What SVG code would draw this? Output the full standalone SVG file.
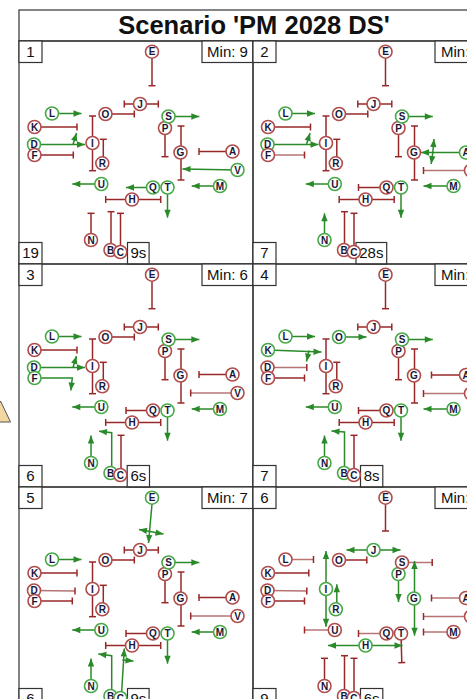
<svg xmlns="http://www.w3.org/2000/svg" width="467" height="699" viewBox="0 0 467 699">
<style>
.fr{fill:none;stroke:#333;stroke-width:1.2}
.bx{fill:#fff;stroke:#333;stroke-width:1.2}
.lb{font-family:"Liberation Sans",Arial,sans-serif;font-size:15px;fill:#111;text-anchor:middle}
.ls{font-family:"Liberation Sans",Arial,sans-serif;font-size:15px;fill:#111}
.rt{stroke:#982828;stroke-width:1.5;fill:none;marker-end:url(#tee)}
.rl{stroke:#b67474;stroke-width:1.5;fill:none;marker-end:url(#teel)}
.ga{stroke:#2a8a2a;stroke-width:1.5;fill:none;marker-end:url(#arr)}
.gb{stroke:#2a8a2a;stroke-width:1.5;fill:none;marker-end:url(#arr);marker-start:url(#arr)}
.n circle{fill:#fff;stroke-width:1.6}
.r circle{stroke:#b04c4c}
.g circle{stroke:#48a848}
.n text{font-family:"Liberation Sans",Arial,sans-serif;font-weight:bold;font-size:10px;text-anchor:middle;fill:#16163a}
</style>
<defs>
<marker id="tee" markerUnits="userSpaceOnUse" markerWidth="10" markerHeight="10" viewBox="-5 -5 10 10" refX="0" refY="0" orient="auto" overflow="visible"><line x1="0" y1="-3.5" x2="0" y2="3.5" stroke="#982828" stroke-width="1.5"/></marker>
<marker id="teel" markerUnits="userSpaceOnUse" markerWidth="10" markerHeight="10" viewBox="-5 -5 10 10" refX="0" refY="0" orient="auto" overflow="visible"><line x1="0" y1="-3.5" x2="0" y2="3.5" stroke="#982828" stroke-width="1.5"/></marker>
<marker id="arr" markerUnits="userSpaceOnUse" markerWidth="10" markerHeight="10" viewBox="-9 -5 10 10" refX="0" refY="0" orient="auto-start-reverse" overflow="visible"><path d="M-8,-3.2 L0,0 L-8,3.2 z" fill="#2a8a2a"/></marker>
</defs>

<rect width="467" height="699" fill="#fff"/>
<polygon points="-9,422 0.5,401 10.5,422" fill="#f3d7a0" stroke="#555" stroke-width="1"/>

<g id="title">
<rect x="19" y="10" width="468" height="31" class="fr"/>
<text x="254" y="33.5" font-family="Liberation Sans, Arial, sans-serif" font-weight="bold" font-size="25.5" text-anchor="middle" fill="#111">Scenario 'PM 2028 DS'</text>
</g>

<!-- PANEL 1 -->
<g id="panel1" transform="translate(19,41)">
<rect width="234" height="223" class="fr"/>
<rect width="23" height="21.5" class="bx"/><text x="11.5" y="16" class="lb">1</text>
<rect x="183" width="51" height="21.5" class="bx"/><text x="208.5" y="16" class="lb">Min: 9</text>
<rect y="201.5" width="23" height="21.5" class="bx"/><text x="11.5" y="217" class="lb">19</text>
<rect x="108.5" y="201.5" width="21.6" height="21.5" class="bx"/><text x="119.3" y="217" class="lb">9s</text>
<g id="p1-connectors">
<line class="rt" x1="133" y1="17" x2="133" y2="44.7"/>
<line class="rt" x1="121" y1="63" x2="105.3" y2="63"/>
<line class="rt" x1="121" y1="63" x2="139.3" y2="63"/>
<line class="rt" x1="86.5" y1="73" x2="115.3" y2="73"/>
<line class="ga" x1="33" y1="72.5" x2="62.5" y2="72.5"/>
<line class="rt" x1="15.5" y1="86" x2="58" y2="86"/>
<line class="ga" x1="15" y1="103.5" x2="66" y2="103.5"/>
<line class="ga" x1="54" y1="103.5" x2="57.5" y2="92"/>
<line class="rt" x1="15.5" y1="114" x2="54.3" y2="114"/>
<line class="rt" x1="73.5" y1="102" x2="73.5" y2="75"/>
<line class="rt" x1="73.5" y1="102" x2="73.5" y2="129.7"/>
<line class="rt" x1="84.3" y1="122" x2="84.3" y2="98.3"/>
<line class="ga" x1="82.3" y1="143" x2="53.3" y2="143"/>
<line class="ga" x1="149.5" y1="75.5" x2="180.3" y2="75.5"/>
<line class="rt" x1="146" y1="87" x2="146" y2="115.7"/>
<line class="rt" x1="162" y1="111.5" x2="162" y2="85"/>
<line class="rt" x1="162" y1="111.5" x2="162" y2="139"/>
<line class="rt" x1="213.5" y1="110.5" x2="180" y2="110.5"/>
<line class="ga" x1="218.5" y1="129" x2="163.5" y2="128"/>
<line class="ga" x1="201" y1="145" x2="172.7" y2="145"/>
<line class="ga" x1="148.5" y1="146.5" x2="148.5" y2="176.7"/>
<line class="ga" x1="134" y1="146.5" x2="107" y2="146.5"/>
<line class="rt" x1="113" y1="158.5" x2="86.7" y2="158.5"/>
<line class="rt" x1="113" y1="158.5" x2="141.7" y2="158.5"/>
<line class="rt" x1="72" y1="199" x2="72" y2="172.3"/>
<line class="rt" x1="92" y1="209" x2="92" y2="170.7"/>
<line class="rt" x1="101.5" y1="211" x2="101.5" y2="172.3"/>
</g>
<g id="p1-E" class="n r" transform="translate(133,10.7)"><circle r="6.5"/><text y="3.6">E</text></g>
<g id="p1-J" class="n r" transform="translate(121,63)"><circle r="6.5"/><text y="3.6">J</text></g>
<g id="p1-O" class="n r" transform="translate(86.5,73)"><circle r="6.5"/><text y="3.6">O</text></g>
<g id="p1-L" class="n g" transform="translate(33,72.5)"><circle r="6.5"/><text y="3.6">L</text></g>
<g id="p1-K" class="n r" transform="translate(15.5,86)"><circle r="6.5"/><text y="3.6">K</text></g>
<g id="p1-D" class="n g" transform="translate(15,103.5)"><circle r="6.5"/><text y="3.6">D</text></g>
<g id="p1-F" class="n r" transform="translate(15.5,114)"><circle r="6.5"/><text y="3.6">F</text></g>
<g id="p1-I" class="n r" transform="translate(73.5,102)"><circle r="6.5"/><text y="3.6">I</text></g>
<g id="p1-R" class="n r" transform="translate(83.3,122.3)"><circle r="6.5"/><text y="3.6">R</text></g>
<g id="p1-U" class="n g" transform="translate(82.3,143)"><circle r="6.5"/><text y="3.6">U</text></g>
<g id="p1-P" class="n r" transform="translate(146,87)"><circle r="6.5"/><text y="3.6">P</text></g>
<g id="p1-S" class="n g" transform="translate(149.5,75.5)"><circle r="6.5"/><text y="3.6">S</text></g>
<g id="p1-G" class="n r" transform="translate(161.5,111.5)"><circle r="6.5"/><text y="3.6">G</text></g>
<g id="p1-A" class="n r" transform="translate(213.5,110.5)"><circle r="6.5"/><text y="3.6">A</text></g>
<g id="p1-V" class="n g" transform="translate(218.5,129)"><circle r="6.5"/><text y="3.6">V</text></g>
<g id="p1-M" class="n g" transform="translate(201,145)"><circle r="6.5"/><text y="3.6">M</text></g>
<g id="p1-Q" class="n g" transform="translate(134,146.5)"><circle r="6.5"/><text y="3.6">Q</text></g>
<g id="p1-T" class="n g" transform="translate(148.5,146.5)"><circle r="6.5"/><text y="3.6">T</text></g>
<g id="p1-H" class="n r" transform="translate(113,158.5)"><circle r="6.5"/><text y="3.6">H</text></g>
<g id="p1-N" class="n r" transform="translate(72,199)"><circle r="6.5"/><text y="3.6">N</text></g>
<g id="p1-B" class="n r" transform="translate(91.5,209)"><circle r="6.5"/><text y="3.6">B</text></g>
<g id="p1-C" class="n r" transform="translate(101.3,211)"><circle r="6.5"/><text y="3.6">C</text></g>
</g>

<!-- PANEL 2 -->
<g id="panel2" transform="translate(252.5,41)">
<rect x="0.5" width="234" height="223" class="fr"/>
<rect x="0.5" width="23" height="21.5" class="bx"/><text x="12" y="16" class="lb">2</text>
<rect x="182.5" width="52" height="21.5" class="bx"/><text x="188.5" y="16" class="ls">Min:</text>
<rect x="0.5" y="201.5" width="23" height="21.5" class="bx"/><text x="12" y="217" class="lb">7</text>
<rect x="103.5" y="201.5" width="30.7" height="21.5" class="bx"/><text x="118.8" y="217" class="lb">28s</text>
<g id="p2-connectors">
<line class="rt" x1="133" y1="17" x2="133" y2="44.7"/>
<line class="rt" x1="121" y1="63" x2="105.3" y2="63"/>
<line class="rt" x1="121" y1="63" x2="139.3" y2="63"/>
<line class="rt" x1="86.5" y1="73" x2="115.3" y2="73"/>
<line class="ga" x1="33" y1="72.5" x2="62.5" y2="72.5"/>
<line class="rt" x1="15.5" y1="86" x2="58" y2="86"/>
<line class="ga" x1="15" y1="103.5" x2="66" y2="103.5"/>
<line class="ga" x1="54" y1="103.5" x2="57.5" y2="92"/>
<line class="rl" x1="15.5" y1="114" x2="52" y2="114"/>
<line class="rt" x1="73.5" y1="102" x2="73.5" y2="75"/>
<line class="rt" x1="73.5" y1="102" x2="73.5" y2="129.7"/>
<line class="rt" x1="84.3" y1="122" x2="84.3" y2="98.3"/>
<line class="ga" x1="82.3" y1="143" x2="53.3" y2="143"/>
<line class="ga" x1="149.5" y1="75.5" x2="180.3" y2="75.5"/>
<line class="rt" x1="146" y1="87" x2="146" y2="115.7"/>
<line class="rt" x1="162" y1="111.5" x2="162" y2="85"/>
<line class="rt" x1="162" y1="111.5" x2="162" y2="139"/>
<line class="ga" x1="213.5" y1="111.5" x2="168.5" y2="111.5"/>
<line class="ga" x1="180.3" y1="111.5" x2="181.5" y2="98"/>
<line class="ga" x1="180.3" y1="111.5" x2="178.7" y2="123"/>
<line class="rl" x1="218.5" y1="129.5" x2="171" y2="129.5"/>
<line class="ga" x1="201" y1="145" x2="171" y2="145"/>
<line class="ga" x1="148.5" y1="146.5" x2="148.5" y2="176.7"/>
<line class="rt" x1="134" y1="146.5" x2="106" y2="146.5"/>
<line class="rt" x1="113" y1="158.5" x2="86.7" y2="158.5"/>
<line class="rt" x1="113" y1="158.5" x2="141.7" y2="158.5"/>
<line class="ga" x1="72" y1="199" x2="72" y2="172.3"/>
<line class="rt" x1="92" y1="209" x2="92" y2="170.7"/>
<line class="rt" x1="101.5" y1="211" x2="101.5" y2="172.3"/>
</g>
<g id="p2-E" class="n r" transform="translate(133,10.7)"><circle r="6.5"/><text y="3.6">E</text></g>
<g id="p2-J" class="n r" transform="translate(121,63)"><circle r="6.5"/><text y="3.6">J</text></g>
<g id="p2-O" class="n r" transform="translate(86.5,73)"><circle r="6.5"/><text y="3.6">O</text></g>
<g id="p2-L" class="n g" transform="translate(33,72.5)"><circle r="6.5"/><text y="3.6">L</text></g>
<g id="p2-K" class="n r" transform="translate(15.5,86)"><circle r="6.5"/><text y="3.6">K</text></g>
<g id="p2-D" class="n g" transform="translate(15,103.5)"><circle r="6.5"/><text y="3.6">D</text></g>
<g id="p2-F" class="n r" transform="translate(15.5,114)"><circle r="6.5"/><text y="3.6">F</text></g>
<g id="p2-I" class="n r" transform="translate(73.5,102)"><circle r="6.5"/><text y="3.6">I</text></g>
<g id="p2-R" class="n r" transform="translate(83.3,122.3)"><circle r="6.5"/><text y="3.6">R</text></g>
<g id="p2-U" class="n g" transform="translate(82.3,143)"><circle r="6.5"/><text y="3.6">U</text></g>
<g id="p2-P" class="n r" transform="translate(146,87)"><circle r="6.5"/><text y="3.6">P</text></g>
<g id="p2-S" class="n g" transform="translate(149.5,75.5)"><circle r="6.5"/><text y="3.6">S</text></g>
<g id="p2-G" class="n r" transform="translate(161.5,111.5)"><circle r="6.5"/><text y="3.6">G</text></g>
<g id="p2-A" class="n g" transform="translate(213.5,111.5)"><circle r="6.5"/><text y="3.6">A</text></g>
<g id="p2-V" class="n r" transform="translate(218.5,129.5)"><circle r="6.5"/><text y="3.6">V</text></g>
<g id="p2-M" class="n g" transform="translate(201,145)"><circle r="6.5"/><text y="3.6">M</text></g>
<g id="p2-Q" class="n r" transform="translate(134,146.5)"><circle r="6.5"/><text y="3.6">Q</text></g>
<g id="p2-T" class="n g" transform="translate(148.5,146.5)"><circle r="6.5"/><text y="3.6">T</text></g>
<g id="p2-H" class="n r" transform="translate(113,158.5)"><circle r="6.5"/><text y="3.6">H</text></g>
<g id="p2-N" class="n g" transform="translate(72,199)"><circle r="6.5"/><text y="3.6">N</text></g>
<g id="p2-B" class="n r" transform="translate(91.5,209)"><circle r="6.5"/><text y="3.6">B</text></g>
<g id="p2-C" class="n r" transform="translate(101.3,211)"><circle r="6.5"/><text y="3.6">C</text></g>
</g>

<!-- PANEL 3 -->
<g id="panel3" transform="translate(19,264)">
<rect width="234" height="223" class="fr"/>
<rect width="23" height="21.5" class="bx"/><text x="11.5" y="16" class="lb">3</text>
<rect x="183" width="51" height="21.5" class="bx"/><text x="208.5" y="16" class="lb">Min: 6</text>
<rect y="201.5" width="23" height="21.5" class="bx"/><text x="11.5" y="217" class="lb">6</text>
<rect x="108.2" y="201.5" width="22.3" height="21.5" class="bx"/><text x="119.3" y="217" class="lb">6s</text>
<g id="p3-connectors">
<line class="rt" x1="133" y1="17" x2="133" y2="44.7"/>
<line class="rt" x1="121" y1="63" x2="105.3" y2="63"/>
<line class="rt" x1="121" y1="63" x2="139.3" y2="63"/>
<line class="rt" x1="86.5" y1="73" x2="115.3" y2="73"/>
<line class="ga" x1="33" y1="72.5" x2="62.5" y2="72.5"/>
<line class="rt" x1="15.5" y1="86" x2="58" y2="86"/>
<line class="ga" x1="15" y1="103.5" x2="66" y2="103.5"/>
<line class="ga" x1="54" y1="103.5" x2="57.5" y2="92"/>
<path class="ga" d="M15.5,114 H53.3 L51.8,126.5"/>
<line class="rt" x1="73.5" y1="102" x2="73.5" y2="75"/>
<line class="rt" x1="73.5" y1="102" x2="73.5" y2="129.7"/>
<line class="rt" x1="84.3" y1="122" x2="84.3" y2="98.3"/>
<line class="ga" x1="82.3" y1="143" x2="53.3" y2="143"/>
<line class="ga" x1="149.5" y1="75.5" x2="180.3" y2="75.5"/>
<line class="rt" x1="146" y1="87" x2="146" y2="115.7"/>
<line class="rt" x1="162" y1="111.5" x2="162" y2="85"/>
<line class="rt" x1="162" y1="111.5" x2="162" y2="139"/>
<line class="rt" x1="213.5" y1="110.5" x2="180" y2="110.5"/>
<line class="rl" x1="218.5" y1="129" x2="171.7" y2="129"/>
<line class="ga" x1="201" y1="145" x2="172.7" y2="145"/>
<line class="ga" x1="148.5" y1="146.5" x2="148.5" y2="176.7"/>
<line class="rt" x1="134" y1="146.5" x2="107" y2="146.5"/>
<line class="rt" x1="113" y1="158.5" x2="86.7" y2="158.5"/>
<line class="rt" x1="113" y1="158.5" x2="141.7" y2="158.5"/>
<line class="ga" x1="72" y1="199" x2="72" y2="171.5"/>
<path class="ga" d="M92.7,209 V168.7 L80,167.2"/>
<line class="rt" x1="102" y1="211" x2="102" y2="171.3"/>
</g>
<g id="p3-E" class="n r" transform="translate(133,10.7)"><circle r="6.5"/><text y="3.6">E</text></g>
<g id="p3-J" class="n r" transform="translate(121,63)"><circle r="6.5"/><text y="3.6">J</text></g>
<g id="p3-O" class="n r" transform="translate(86.5,73)"><circle r="6.5"/><text y="3.6">O</text></g>
<g id="p3-L" class="n g" transform="translate(33,72.5)"><circle r="6.5"/><text y="3.6">L</text></g>
<g id="p3-K" class="n r" transform="translate(15.5,86)"><circle r="6.5"/><text y="3.6">K</text></g>
<g id="p3-D" class="n g" transform="translate(15,103.5)"><circle r="6.5"/><text y="3.6">D</text></g>
<g id="p3-F" class="n g" transform="translate(15.5,114)"><circle r="6.5"/><text y="3.6">F</text></g>
<g id="p3-I" class="n r" transform="translate(73.5,102)"><circle r="6.5"/><text y="3.6">I</text></g>
<g id="p3-R" class="n r" transform="translate(83.3,122.3)"><circle r="6.5"/><text y="3.6">R</text></g>
<g id="p3-U" class="n g" transform="translate(82.3,143)"><circle r="6.5"/><text y="3.6">U</text></g>
<g id="p3-P" class="n r" transform="translate(146,87)"><circle r="6.5"/><text y="3.6">P</text></g>
<g id="p3-S" class="n g" transform="translate(149.5,75.5)"><circle r="6.5"/><text y="3.6">S</text></g>
<g id="p3-G" class="n r" transform="translate(161.5,111.5)"><circle r="6.5"/><text y="3.6">G</text></g>
<g id="p3-A" class="n r" transform="translate(213.5,110.5)"><circle r="6.5"/><text y="3.6">A</text></g>
<g id="p3-V" class="n r" transform="translate(218.5,129)"><circle r="6.5"/><text y="3.6">V</text></g>
<g id="p3-M" class="n g" transform="translate(201,145)"><circle r="6.5"/><text y="3.6">M</text></g>
<g id="p3-Q" class="n r" transform="translate(134,146.5)"><circle r="6.5"/><text y="3.6">Q</text></g>
<g id="p3-T" class="n g" transform="translate(148.5,146.5)"><circle r="6.5"/><text y="3.6">T</text></g>
<g id="p3-H" class="n r" transform="translate(113,158.5)"><circle r="6.5"/><text y="3.6">H</text></g>
<g id="p3-N" class="n g" transform="translate(72,199)"><circle r="6.5"/><text y="3.6">N</text></g>
<g id="p3-B" class="n g" transform="translate(91.5,209)"><circle r="6.5"/><text y="3.6">B</text></g>
<g id="p3-C" class="n r" transform="translate(101.3,211)"><circle r="6.5"/><text y="3.6">C</text></g>
</g>

<!-- PANEL 4 -->
<g id="panel4" transform="translate(252.5,264)">
<rect x="0.5" width="234" height="223" class="fr"/>
<rect x="0.5" width="23" height="21.5" class="bx"/><text x="12" y="16" class="lb">4</text>
<rect x="182.5" width="52" height="21.5" class="bx"/><text x="188.5" y="16" class="ls">Min:</text>
<rect x="0.5" y="201.5" width="23" height="21.5" class="bx"/><text x="12" y="217" class="lb">7</text>
<rect x="108" y="201.5" width="22.3" height="21.5" class="bx"/><text x="119.1" y="217" class="lb">8s</text>
<g id="p4-connectors">
<line class="rt" x1="133" y1="17" x2="133" y2="44.7"/>
<line class="rt" x1="121" y1="63" x2="105.3" y2="63"/>
<line class="rt" x1="121" y1="63" x2="139.3" y2="63"/>
<line class="ga" x1="86.5" y1="73" x2="114" y2="73"/>
<line class="ga" x1="33" y1="72.5" x2="62.5" y2="72.5"/>
<line class="ga" x1="15.5" y1="86" x2="69" y2="88"/>
<line class="ga" x1="56.5" y1="86.5" x2="54" y2="97.5"/>
<line class="rl" x1="15" y1="103.5" x2="54.3" y2="103.5"/>
<line class="rt" x1="15.5" y1="114" x2="52" y2="114"/>
<line class="rt" x1="73.5" y1="102" x2="73.5" y2="75"/>
<line class="rt" x1="73.5" y1="102" x2="73.5" y2="129.7"/>
<line class="rt" x1="84.3" y1="122" x2="84.3" y2="98.3"/>
<line class="ga" x1="82.3" y1="143" x2="53.3" y2="143"/>
<line class="ga" x1="149.5" y1="75.5" x2="180.3" y2="75.5"/>
<line class="rt" x1="146" y1="87" x2="146" y2="115.7"/>
<line class="rt" x1="162" y1="111.5" x2="162" y2="85"/>
<line class="rt" x1="162" y1="111.5" x2="162" y2="139"/>
<line class="rt" x1="213.5" y1="111" x2="179" y2="111"/>
<line class="rl" x1="218.5" y1="129.5" x2="171" y2="129.5"/>
<line class="ga" x1="201" y1="145" x2="171" y2="145"/>
<line class="ga" x1="148.5" y1="146.5" x2="148.5" y2="176.7"/>
<line class="rt" x1="134" y1="146.5" x2="106" y2="146.5"/>
<line class="rt" x1="113" y1="158.5" x2="86.7" y2="158.5"/>
<line class="rt" x1="113" y1="158.5" x2="141.7" y2="158.5"/>
<line class="ga" x1="72" y1="199" x2="72" y2="171.5"/>
<path class="ga" d="M92,209 V168 L79,167"/>
<line class="rt" x1="101.5" y1="211" x2="101.5" y2="171.3"/>
</g>
<g id="p4-E" class="n r" transform="translate(133,10.7)"><circle r="6.5"/><text y="3.6">E</text></g>
<g id="p4-J" class="n r" transform="translate(121,63)"><circle r="6.5"/><text y="3.6">J</text></g>
<g id="p4-O" class="n g" transform="translate(86.5,73)"><circle r="6.5"/><text y="3.6">O</text></g>
<g id="p4-L" class="n g" transform="translate(33,72.5)"><circle r="6.5"/><text y="3.6">L</text></g>
<g id="p4-K" class="n g" transform="translate(15.5,86)"><circle r="6.5"/><text y="3.6">K</text></g>
<g id="p4-D" class="n r" transform="translate(15,103.5)"><circle r="6.5"/><text y="3.6">D</text></g>
<g id="p4-F" class="n r" transform="translate(15.5,114)"><circle r="6.5"/><text y="3.6">F</text></g>
<g id="p4-I" class="n r" transform="translate(73.5,102)"><circle r="6.5"/><text y="3.6">I</text></g>
<g id="p4-R" class="n r" transform="translate(83.3,122.3)"><circle r="6.5"/><text y="3.6">R</text></g>
<g id="p4-U" class="n g" transform="translate(82.3,143)"><circle r="6.5"/><text y="3.6">U</text></g>
<g id="p4-P" class="n r" transform="translate(146,87)"><circle r="6.5"/><text y="3.6">P</text></g>
<g id="p4-S" class="n g" transform="translate(149.5,75.5)"><circle r="6.5"/><text y="3.6">S</text></g>
<g id="p4-G" class="n r" transform="translate(161.5,111.5)"><circle r="6.5"/><text y="3.6">G</text></g>
<g id="p4-A" class="n r" transform="translate(213.5,111)"><circle r="6.5"/><text y="3.6">A</text></g>
<g id="p4-V" class="n r" transform="translate(218.5,129.5)"><circle r="6.5"/><text y="3.6">V</text></g>
<g id="p4-M" class="n g" transform="translate(201,145)"><circle r="6.5"/><text y="3.6">M</text></g>
<g id="p4-Q" class="n r" transform="translate(134,146.5)"><circle r="6.5"/><text y="3.6">Q</text></g>
<g id="p4-T" class="n g" transform="translate(148.5,146.5)"><circle r="6.5"/><text y="3.6">T</text></g>
<g id="p4-H" class="n r" transform="translate(113,158.5)"><circle r="6.5"/><text y="3.6">H</text></g>
<g id="p4-N" class="n g" transform="translate(72,199)"><circle r="6.5"/><text y="3.6">N</text></g>
<g id="p4-B" class="n g" transform="translate(91.5,209)"><circle r="6.5"/><text y="3.6">B</text></g>
<g id="p4-C" class="n r" transform="translate(101.3,211)"><circle r="6.5"/><text y="3.6">C</text></g>
</g>

<!-- PANEL 5 -->
<g id="panel5" transform="translate(19,487)">
<rect width="234" height="223" class="fr"/>
<rect width="23" height="21.5" class="bx"/><text x="11.5" y="16" class="lb">5</text>
<rect x="183" width="51" height="21.5" class="bx"/><text x="208.5" y="16" class="lb">Min: 7</text>
<rect y="201.5" width="23" height="21.5" class="bx"/><text x="11.5" y="217" class="lb">6</text>
<rect x="108.5" y="201.5" width="21.6" height="21.5" class="bx"/><text x="119.3" y="217" class="lb">9s</text>
<g id="p5-connectors">
<line class="ga" x1="133" y1="17" x2="129.5" y2="56"/>
<line class="gb" x1="120" y1="42.5" x2="144.5" y2="47"/>
<line class="rt" x1="121" y1="63" x2="105.3" y2="63"/>
<line class="rt" x1="121" y1="63" x2="139.3" y2="63"/>
<line class="rt" x1="86.5" y1="73" x2="115.3" y2="73"/>
<line class="ga" x1="33" y1="72.5" x2="62.5" y2="72.5"/>
<line class="rt" x1="15.5" y1="86" x2="58" y2="86"/>
<line class="rl" x1="15" y1="103.5" x2="56" y2="104"/>
<line class="rt" x1="15.5" y1="114" x2="53.3" y2="114"/>
<line class="rt" x1="73.5" y1="102" x2="73.5" y2="75"/>
<line class="rt" x1="73.5" y1="102" x2="73.5" y2="129.7"/>
<line class="rt" x1="84.3" y1="122" x2="84.3" y2="98.3"/>
<line class="ga" x1="82.3" y1="143" x2="53.3" y2="143"/>
<line class="ga" x1="149.5" y1="75.5" x2="180.3" y2="75.5"/>
<line class="rt" x1="146" y1="87" x2="146" y2="115.7"/>
<line class="rt" x1="162" y1="111.5" x2="162" y2="85"/>
<line class="rt" x1="162" y1="111.5" x2="162" y2="139"/>
<line class="rt" x1="213.5" y1="110.5" x2="180" y2="110.5"/>
<line class="rl" x1="218.5" y1="129" x2="171.7" y2="129"/>
<line class="ga" x1="201" y1="145" x2="172.7" y2="145"/>
<line class="ga" x1="148.5" y1="146.5" x2="148.5" y2="176.7"/>
<line class="rt" x1="134" y1="146.5" x2="107" y2="146.5"/>
<line class="rt" x1="113" y1="158.5" x2="86.7" y2="158.5"/>
<line class="rt" x1="113" y1="158.5" x2="141.7" y2="158.5"/>
<line class="ga" x1="72" y1="199" x2="72" y2="171.5"/>
<path class="ga" d="M92.7,209 V168.7 L79.3,167"/>
<line class="ga" x1="102.3" y1="211" x2="105.3" y2="161.5"/>
<line class="ga" x1="103.3" y1="173" x2="114.5" y2="174"/>
</g>
<g id="p5-E" class="n g" transform="translate(133,10.7)"><circle r="6.5"/><text y="3.6">E</text></g>
<g id="p5-J" class="n r" transform="translate(121,63)"><circle r="6.5"/><text y="3.6">J</text></g>
<g id="p5-O" class="n r" transform="translate(86.5,73)"><circle r="6.5"/><text y="3.6">O</text></g>
<g id="p5-L" class="n g" transform="translate(33,72.5)"><circle r="6.5"/><text y="3.6">L</text></g>
<g id="p5-K" class="n r" transform="translate(15.5,86)"><circle r="6.5"/><text y="3.6">K</text></g>
<g id="p5-D" class="n r" transform="translate(15,103.5)"><circle r="6.5"/><text y="3.6">D</text></g>
<g id="p5-F" class="n r" transform="translate(15.5,114)"><circle r="6.5"/><text y="3.6">F</text></g>
<g id="p5-I" class="n r" transform="translate(73.5,102)"><circle r="6.5"/><text y="3.6">I</text></g>
<g id="p5-R" class="n r" transform="translate(83.3,122.3)"><circle r="6.5"/><text y="3.6">R</text></g>
<g id="p5-U" class="n g" transform="translate(82.3,143)"><circle r="6.5"/><text y="3.6">U</text></g>
<g id="p5-P" class="n r" transform="translate(146,87)"><circle r="6.5"/><text y="3.6">P</text></g>
<g id="p5-S" class="n g" transform="translate(149.5,75.5)"><circle r="6.5"/><text y="3.6">S</text></g>
<g id="p5-G" class="n r" transform="translate(161.5,111.5)"><circle r="6.5"/><text y="3.6">G</text></g>
<g id="p5-A" class="n r" transform="translate(213.5,110.5)"><circle r="6.5"/><text y="3.6">A</text></g>
<g id="p5-V" class="n r" transform="translate(218.5,129)"><circle r="6.5"/><text y="3.6">V</text></g>
<g id="p5-M" class="n g" transform="translate(201,145)"><circle r="6.5"/><text y="3.6">M</text></g>
<g id="p5-Q" class="n r" transform="translate(134,146.5)"><circle r="6.5"/><text y="3.6">Q</text></g>
<g id="p5-T" class="n g" transform="translate(148.5,146.5)"><circle r="6.5"/><text y="3.6">T</text></g>
<g id="p5-H" class="n r" transform="translate(113,158.5)"><circle r="6.5"/><text y="3.6">H</text></g>
<g id="p5-N" class="n g" transform="translate(72,199)"><circle r="6.5"/><text y="3.6">N</text></g>
<g id="p5-B" class="n g" transform="translate(91.5,209)"><circle r="6.5"/><text y="3.6">B</text></g>
<g id="p5-C" class="n g" transform="translate(101.3,211)"><circle r="6.5"/><text y="3.6">C</text></g>
</g>

<!-- PANEL 6 -->
<g id="panel6" transform="translate(252.5,487)">
<rect x="0.5" width="234" height="223" class="fr"/>
<rect x="0.5" width="23" height="21.5" class="bx"/><text x="12" y="16" class="lb">6</text>
<rect x="182.5" width="52" height="21.5" class="bx"/><text x="188.5" y="16" class="ls">Min:</text>
<rect x="0.5" y="201.5" width="23" height="21.5" class="bx"/><text x="12" y="217" class="lb">9</text>
<rect x="108" y="201.5" width="22.3" height="21.5" class="bx"/><text x="119.1" y="217" class="lb">6s</text>
<g id="p6-connectors">
<line class="rt" x1="133" y1="17" x2="133" y2="44"/>
<line class="ga" x1="121" y1="63" x2="94" y2="63"/>
<line class="ga" x1="121" y1="63" x2="148" y2="63"/>
<line class="rt" x1="86.5" y1="73" x2="114.3" y2="73"/>
<line class="rl" x1="33" y1="72.5" x2="61" y2="72.5"/>
<line class="rt" x1="15.5" y1="86" x2="56.3" y2="86"/>
<line class="rl" x1="15" y1="103.5" x2="54.3" y2="104"/>
<line class="rt" x1="15.5" y1="114" x2="52" y2="114"/>
<line class="ga" x1="73.5" y1="102" x2="73.5" y2="64"/>
<line class="ga" x1="73.5" y1="102" x2="73.5" y2="139.7"/>
<line class="ga" x1="84.3" y1="122" x2="84.3" y2="97.3"/>
<line class="rl" x1="82.3" y1="143" x2="52" y2="143"/>
<line class="rl" x1="149.5" y1="75.5" x2="179.7" y2="75.5"/>
<line class="ga" x1="146" y1="87" x2="146" y2="115"/>
<line class="ga" x1="162" y1="111.5" x2="162" y2="74"/>
<line class="ga" x1="162" y1="111.5" x2="162" y2="148.7"/>
<line class="rl" x1="213.5" y1="111" x2="179" y2="111"/>
<line class="rl" x1="218.5" y1="129.5" x2="171" y2="129.5"/>
<line class="rl" x1="201" y1="145" x2="171" y2="145"/>
<line class="rt" x1="148.5" y1="146.5" x2="149.3" y2="175.7"/>
<line class="rl" x1="134" y1="146.5" x2="106" y2="146.5"/>
<line class="ga" x1="113" y1="158.5" x2="75.5" y2="158.5"/>
<line class="ga" x1="113" y1="158.5" x2="150" y2="158.5"/>
<line class="rt" x1="72" y1="199" x2="72" y2="171.3"/>
<line class="rt" x1="92" y1="209" x2="92" y2="168.7"/>
<line class="rt" x1="101.5" y1="211" x2="101.5" y2="171.3"/>
</g>
<g id="p6-E" class="n r" transform="translate(133,10.7)"><circle r="6.5"/><text y="3.6">E</text></g>
<g id="p6-J" class="n g" transform="translate(121,63)"><circle r="6.5"/><text y="3.6">J</text></g>
<g id="p6-O" class="n r" transform="translate(86.5,73)"><circle r="6.5"/><text y="3.6">O</text></g>
<g id="p6-L" class="n r" transform="translate(33,72.5)"><circle r="6.5"/><text y="3.6">L</text></g>
<g id="p6-K" class="n r" transform="translate(15.5,86)"><circle r="6.5"/><text y="3.6">K</text></g>
<g id="p6-D" class="n r" transform="translate(15,103.5)"><circle r="6.5"/><text y="3.6">D</text></g>
<g id="p6-F" class="n r" transform="translate(15.5,114)"><circle r="6.5"/><text y="3.6">F</text></g>
<g id="p6-I" class="n g" transform="translate(73.5,102)"><circle r="6.5"/><text y="3.6">I</text></g>
<g id="p6-R" class="n g" transform="translate(83.3,122.3)"><circle r="6.5"/><text y="3.6">R</text></g>
<g id="p6-U" class="n r" transform="translate(82.3,143)"><circle r="6.5"/><text y="3.6">U</text></g>
<g id="p6-P" class="n g" transform="translate(146,87)"><circle r="6.5"/><text y="3.6">P</text></g>
<g id="p6-S" class="n r" transform="translate(149.5,75.5)"><circle r="6.5"/><text y="3.6">S</text></g>
<g id="p6-G" class="n g" transform="translate(161.5,111.5)"><circle r="6.5"/><text y="3.6">G</text></g>
<g id="p6-A" class="n r" transform="translate(213.5,111)"><circle r="6.5"/><text y="3.6">A</text></g>
<g id="p6-V" class="n r" transform="translate(218.5,129.5)"><circle r="6.5"/><text y="3.6">V</text></g>
<g id="p6-M" class="n r" transform="translate(201,145)"><circle r="6.5"/><text y="3.6">M</text></g>
<g id="p6-Q" class="n r" transform="translate(134,146.5)"><circle r="6.5"/><text y="3.6">Q</text></g>
<g id="p6-T" class="n r" transform="translate(148.5,146.5)"><circle r="6.5"/><text y="3.6">T</text></g>
<g id="p6-H" class="n g" transform="translate(113,158.5)"><circle r="6.5"/><text y="3.6">H</text></g>
<g id="p6-N" class="n r" transform="translate(72,199)"><circle r="6.5"/><text y="3.6">N</text></g>
<g id="p6-B" class="n r" transform="translate(91.5,209)"><circle r="6.5"/><text y="3.6">B</text></g>
<g id="p6-C" class="n r" transform="translate(101.3,211)"><circle r="6.5"/><text y="3.6">C</text></g>
</g>
</svg>
